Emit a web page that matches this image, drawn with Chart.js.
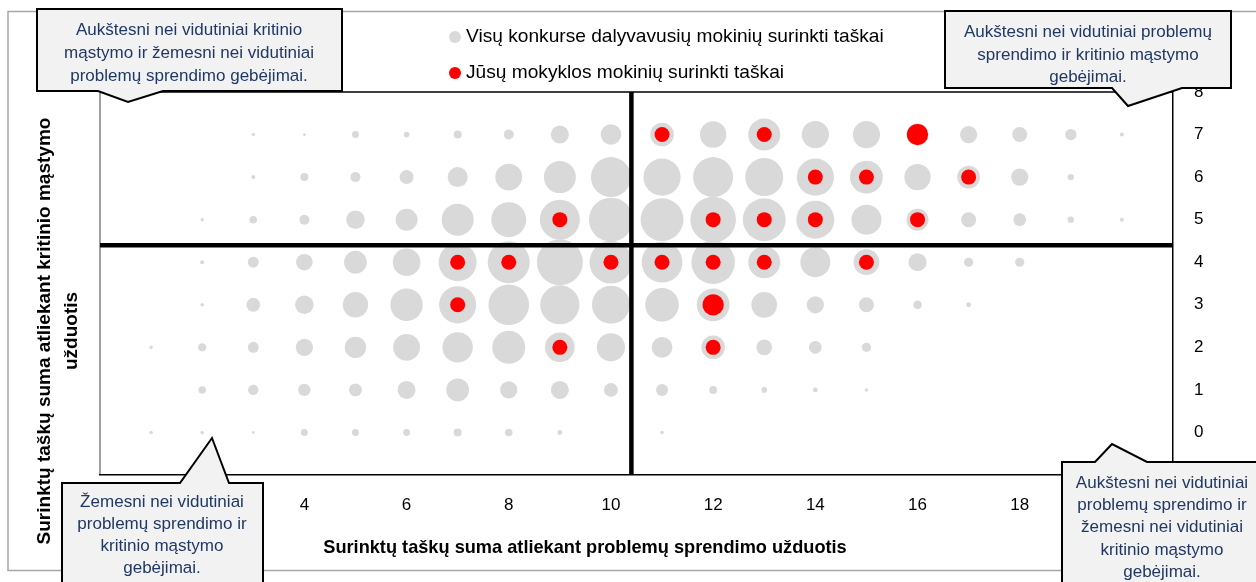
<!DOCTYPE html>
<html><head><meta charset="utf-8">
<script src="https://cdn.jsdelivr.net/npm/chart.js@4/dist/chart.umd.min.js"></script>
<style>html,body{margin:0;padding:0;background:#fff;}canvas{display:block;}</style>
</head><body>
<canvas id="c" width="1256" height="582"></canvas>
<script>
// Problem-solving score (x) categories
const xValues = [0,1,2,3,4,5,6,7,8,9,10,11,12,13,14,15,16,17,18,19,20];
// All participants: number of students per x value, one array per critical-thinking score (y)
const allY7 = [0,0,0,3,2,12,8,16,25,81,106,139,174,256,185,185,121,74,56,32,4];
const allY6 = [0,0,0,4,16,25,49,100,180,256,400,346,400,361,346,269,174,130,74,10,0];
const allY5 = [0,0,3,14,25,86,121,256,306,400,484,458,520,458,361,225,121,56,41,10,4];
const allY4 = [0,0,4,30,69,130,190,361,441,529,458,416,475,256,225,166,81,21,21,0,0];
const allY3 = [0,0,3,48,86,161,262,346,412,384,361,282,269,166,74,56,18,6,0,0,0];
const allY2 = [0,3,17,30,74,114,180,231,272,219,199,108,139,62,41,21,0,0,0,0,0];
const allY1 = [0,0,14,27,38,42,81,130,74,81,48,36,15,8,6,3,0,0,0,0,0];
const allY0 = [0,3,3,2,12,12,12,16,14,6,0,3,0,0,0,0,0,0,0,0,0];
const allRows = [[7,allY7],[6,allY6],[5,allY5],[4,allY4],[3,allY3],[2,allY2],[1,allY1],[0,allY0]];
// Your school
const schoolX = [11,13,16,14,15,17,9,12,13,14,16,7,8,10,11,12,13,15,7,12,9,12];
const schoolY = [7,7,7,6,6,6,5,5,5,5,5,4,4,4,4,4,4,4,3,3,2,2];
const schoolN = [1,1,2,1,1,1,1,1,1,1,1,1,1,1,1,1,1,1,1,2,1,1];
// Averages
const meanProblem = 10.4;
const meanCritical = 4.4;
// Axis ranges / ticks
const xMin = 0, xMax = 21, xStep = 2;
const yMin = -1, yMax = 8, yStep = 1;

const seriesAll = "Visų konkurse dalyvavusių mokinių surinkti taškai";
const seriesSchool = "Jūsų mokyklos mokinių surinkti taškai";
const xTitle = "Surinktų taškų suma atliekant problemų sprendimo užduotis";
const yTitle = ["Surinktų taškų suma atliekant kritinio mąstymo", "užduotis"];
const calloutTL = ["Aukštesni nei vidutiniai kritinio", "mąstymo ir žemesni nei vidutiniai", "problemų sprendimo gebėjimai."];
const calloutTR = ["Aukštesni nei vidutiniai problemų", "sprendimo ir kritinio mąstymo", "gebėjimai."];
const calloutBL = ["Žemesni nei vidutiniai", "problemų sprendimo ir", "kritinio mąstymo", "gebėjimai."];
const calloutBR = ["Aukštesni nei vidutiniai", "problemų sprendimo ir", "žemesni nei vidutiniai", "kritinio mąstymo", "gebėjimai."];

const FAM = "'Liberation Sans', Arial, sans-serif";
const rAll = n => Math.max(1.4, Math.sqrt(n));
const rSchool = n => 7.5 * Math.sqrt(n);

const allData = [];
allRows.forEach(([y, arr]) => arr.forEach((n, i) => { if (n > 0) allData.push({x: xValues[i], y: y, r: rAll(n)}); }));
const schoolData = schoolX.map((x, i) => ({x: x, y: schoolY[i], r: rSchool(schoolN[i])}));

function fitSize(ctx, text, target, weight) {
  ctx.font = weight + " 100px " + FAM;
  return 100 * target / ctx.measureText(text).width;
}

function callout(ctx, pts, lines, cx, ys, size) {
  ctx.save();
  ctx.beginPath();
  pts.forEach((p, i) => i ? ctx.lineTo(p[0], p[1]) : ctx.moveTo(p[0], p[1]));
  ctx.closePath();
  ctx.fillStyle = "#f2f2f2";
  ctx.fill();
  ctx.lineWidth = 2;
  ctx.strokeStyle = "#000";
  ctx.lineJoin = "miter";
  ctx.stroke();
  ctx.fillStyle = "#1f3864";
  ctx.font = size.toFixed(2) + "px " + FAM;
  ctx.textAlign = "center";
  ctx.textBaseline = "middle";
  lines.forEach((t, i) => ctx.fillText(t, cx, ys[i]));
  ctx.restore();
}

const decor = {
  id: "decor",
  beforeDraw(chart) {
    const ctx = chart.ctx, a = chart.chartArea;
    ctx.save();
    ctx.fillStyle = "#fff";
    ctx.fillRect(0, 0, chart.width, chart.height);
    ctx.strokeStyle = "#a6a6a6";
    ctx.lineWidth = 1.5;
    ctx.strokeRect(8, 11.5, 1270, 559);
    ctx.lineWidth = 1.5;
    ctx.strokeStyle = "#808080";
    ctx.beginPath(); ctx.moveTo(a.left, a.top); ctx.lineTo(a.left, a.bottom); ctx.stroke();
    ctx.strokeStyle = "#000";
    ctx.beginPath(); ctx.moveTo(a.left, a.top); ctx.lineTo(a.right, a.top); ctx.stroke();
    ctx.restore();
  },
  afterDraw(chart) {
    const ctx = chart.ctx;
    ctx.save();
    // legend
    const ls = fitSize(ctx, seriesAll, 418, "normal");
    ctx.font = ls.toFixed(2) + "px " + FAM;
    ctx.textBaseline = "middle";
    ctx.textAlign = "left";
    ctx.fillStyle = "#d9d9d9";
    ctx.beginPath(); ctx.arc(455, 37, 6, 0, Math.PI * 2); ctx.fill();
    ctx.fillStyle = "#ff0000";
    ctx.beginPath(); ctx.arc(455, 73, 6, 0, Math.PI * 2); ctx.fill();
    ctx.fillStyle = "#000";
    ctx.fillText(seriesAll, 466, 37);
    ctx.fillText(seriesSchool, 466, 73);
    // axis titles
    const ts = fitSize(ctx, xTitle, 524, "bold");
    ctx.font = "bold " + ts.toFixed(2) + "px " + FAM;
    ctx.textAlign = "center";
    ctx.fillText(xTitle, 585, 548);
    const ys = fitSize(ctx, yTitle[0], 427, "bold");
    ctx.font = "bold " + ys.toFixed(2) + "px " + FAM;
    ctx.translate(45, 331);
    ctx.rotate(-Math.PI / 2);
    ctx.fillText(yTitle[0], 0, 0);
    ctx.fillText(yTitle[1], 0, 27);
    ctx.restore();
    // callouts
    const cs = fitSize(ctx, calloutTL[1], 250, "normal");
    callout(ctx, [[37,9],[342,9],[342,91],[163,91],[128,102],[98,91],[37,91]], calloutTL, 189, [30,53,76], cs);
    callout(ctx, [[945,11],[1231,11],[1231,88],[1182,88],[1128,106],[1112,88],[945,88]], calloutTR, 1088, [32,55,77], cs);
    callout(ctx, [[62,483],[180,483],[212,438],[229,483],[263,483],[263,600],[62,600]], calloutBL, 162, [502,524,546,568], cs);
    callout(ctx, [[1062,462],[1095,462],[1112,444],[1147,462],[1280,462],[1280,600],[1062,600]], calloutBR, 1162, [483,505,527,550,572], cs);
  }
};

new Chart(document.getElementById("c"), {
  type: "bubble",
  data: {
    datasets: [
      {label: seriesSchool, data: schoolData, backgroundColor: "#ff0000", borderWidth: 0, order: 0},
      {type: "line", label: "meanX", data: [{x: meanProblem, y: yMin}, {x: meanProblem, y: yMax}], borderColor: "#000", borderWidth: 4.5, pointRadius: 0, fill: false, order: 1},
      {type: "line", label: "meanY", data: [{x: xMin, y: meanCritical}, {x: xMax, y: meanCritical}], borderColor: "#000", borderWidth: 4.5, pointRadius: 0, fill: false, order: 1},
      {label: seriesAll, data: allData, backgroundColor: "#d9d9d9", borderWidth: 0, order: 2}
    ]
  },
  options: {
    responsive: false,
    animation: false,
    events: [],
    layout: {padding: {left: 100, top: 92, right: 0, bottom: 0}},
    plugins: {legend: {display: false}, tooltip: {enabled: false}},
    scales: {
      x: {
        type: "linear", position: "bottom", min: xMin, max: xMax,
        grid: {display: false, drawTicks: false},
        border: {display: true, color: "#000", width: 1.5},
        ticks: {stepSize: xStep, includeBounds: false, autoSkip: false, maxRotation: 0, padding: 20, color: "#000", font: {size: 17, family: FAM}},
        afterFit(s) { s.height = 107; }
      },
      y: {
        type: "linear", position: "right", min: yMin, max: yMax,
        grid: {display: false, drawTicks: false},
        border: {display: true, color: "#000", width: 1.5},
        ticks: {stepSize: yStep, includeBounds: false, padding: 21, color: "#000", font: {size: 17, family: FAM}},
        afterFit(s) { s.width = 83; }
      }
    }
  },
  plugins: [decor]
});
</script>
</body></html>
